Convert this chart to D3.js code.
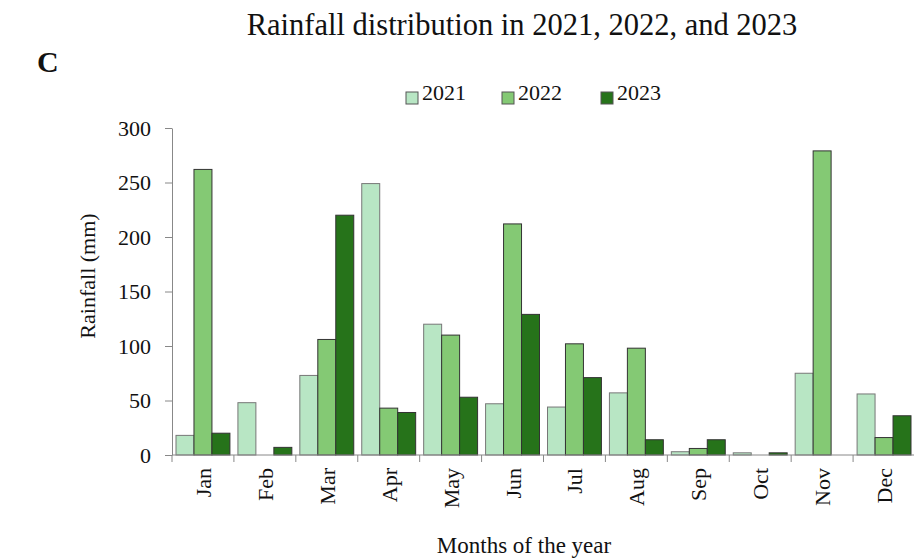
<!DOCTYPE html>
<html>
<head>
<meta charset="utf-8">
<script src="https://cdn.jsdelivr.net/npm/d3@7"></script>
<style>
  html, body { margin: 0; padding: 0; background: #fff; }
  svg { display: block; }
  svg text { font-family: "Liberation Serif", "Times New Roman", serif; }
</style>
</head>
<body>
<svg id="chart" width="914" height="560"></svg>
<script>
// Monthly rainfall (mm)
const months = ["Jan", "Feb", "Mar", "Apr", "May", "Jun", "Jul", "Aug", "Sep", "Oct", "Nov", "Dec"];
const years = ["2021", "2022", "2023"];
const rain2021 = [18, 48, 73, 249, 120, 47, 44, 57, 3, 2, 75, 56];
const rain2022 = [262, 0, 106, 43, 110, 212, 102, 98, 6, 0, 279, 16];
const rain2023 = [20, 7, 220, 39, 53, 129, 71, 14, 14, 2, 0, 36];
const yTicks = [0, 50, 100, 150, 200, 250, 300];
const colors = ["#b8e6c4", "#84c974", "#26731a"];

const series = [rain2021, rain2022, rain2023];
const FONT = "Liberation Serif";

const svg = d3.select("#chart");
const margin = { left: 172, right: -1, top: 128, bottom: 105 };
const width = 914, height = 560;
const plotBottom = height - margin.bottom;

const x0 = d3.scaleBand().domain(months).range([margin.left, width - margin.right]).padding(0);
const x1 = d3.scaleBand().domain(years).range([4, x0.bandwidth() - 4]).padding(0);
const y = d3.scaleLinear().domain([0, 300]).range([plotBottom, margin.top]);

// Bars
const groups = svg.append("g").selectAll("g")
  .data(months)
  .join("g")
  .attr("transform", d => `translate(${x0(d)},0)`);

groups.selectAll("rect")
  .data((m, i) => years.map((yr, k) => ({ yr, k, v: series[k][i] })))
  .join("rect")
  .filter(d => d.v > 0)
  .attr("x", d => x1(d.yr))
  .attr("y", d => y(d.v))
  .attr("width", x1.bandwidth())
  .attr("height", d => y(0) - y(d.v))
  .attr("fill", d => colors[d.k])
  .attr("stroke", d => d.k === 0 ? "#777" : "#333")
  .attr("stroke-width", 1);

// Y axis
const yAxis = svg.append("g")
  .attr("transform", `translate(${margin.left},0)`)
  .call(d3.axisLeft(y).tickValues(yTicks).tickSize(7).tickPadding(14).tickSizeOuter(0))
  .attr("font-family", FONT)
  .attr("font-size", 22);
yAxis.select(".domain").attr("stroke", "#888");
yAxis.selectAll(".tick line").attr("stroke", "#888");
yAxis.selectAll(".tick text")
  .attr("font-family", FONT)
  .attr("font-size", 22)
  .attr("fill", "#111");

// X axis: ticks on band boundaries
const xAxisG = svg.append("g").attr("transform", `translate(0,${plotBottom})`);
xAxisG.append("line")
  .attr("x1", margin.left).attr("x2", width)
  .attr("y1", 0).attr("y2", 0)
  .attr("stroke", "#888");
xAxisG.selectAll("line.tk")
  .data(months)
  .join("line")
  .attr("class", "tk")
  .attr("x1", d => x0(d)).attr("x2", d => x0(d))
  .attr("y1", 0).attr("y2", 7)
  .attr("stroke", "#888");
xAxisG.selectAll("text")
  .data(months)
  .join("text")
  .attr("transform", d => `translate(${x0(d) + x0.bandwidth() / 2 + 8},13) rotate(-90)`)
  .attr("text-anchor", "end")
  .attr("font-family", FONT)
  .attr("font-size", 22)
  .attr("fill", "#111")
  .text(d => d);

// Titles
svg.append("text")
  .attr("x", 522).attr("y", 35)
  .attr("text-anchor", "middle")
  .attr("font-family", FONT)
  .attr("font-size", 30.5)
  .attr("fill", "#111")
  .text("Rainfall distribution in 2021, 2022, and 2023");

svg.append("text")
  .attr("x", 37).attr("y", 72)
  .attr("font-family", FONT)
  .attr("font-size", 30)
  .attr("font-weight", "bold")
  .attr("fill", "#111")
  .text("C");

svg.append("text")
  .attr("transform", `translate(95,276) rotate(-90)`)
  .attr("text-anchor", "middle")
  .attr("font-family", FONT)
  .attr("font-size", 22)
  .attr("fill", "#111")
  .text("Rainfall (mm)");

svg.append("text")
  .attr("x", 524).attr("y", 553)
  .attr("text-anchor", "middle")
  .attr("font-family", FONT)
  .attr("font-size", 23)
  .attr("fill", "#111")
  .text("Months of the year");

// Legend
const legendX = [406, 502, 601];
const legend = svg.append("g").selectAll("g")
  .data(years)
  .join("g")
  .attr("transform", (d, i) => `translate(${legendX[i]},100)`);
legend.append("rect")
  .attr("x", 0).attr("y", -8)
  .attr("width", 12).attr("height", 12)
  .attr("fill", (d, i) => colors[i])
  .attr("stroke", "#555");
legend.append("text")
  .attr("x", 16).attr("y", 0)
  .attr("font-family", FONT)
  .attr("font-size", 22)
  .attr("fill", "#111")
  .text(d => d);
</script>
</body>
</html>
